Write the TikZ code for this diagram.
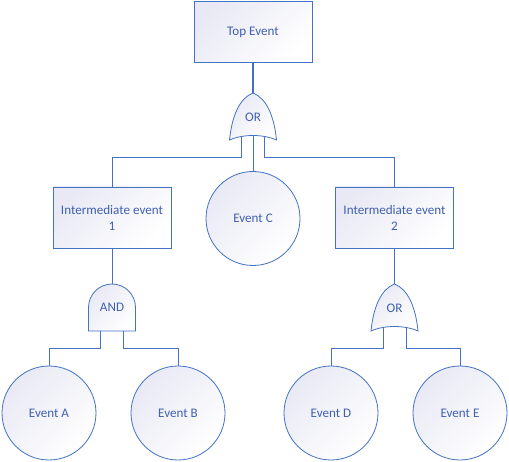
\documentclass[tikz,border=0pt]{standalone}
\usepackage{fontspec}
\setmainfont{Carlito}
\definecolor{ftline}{RGB}{68,114,196}
\definecolor{fttext}{RGB}{64,96,176}
\definecolor{ftfill}{RGB}{232,233,244}
\tikzset{
  shapefill/.style={draw=ftline, line width=0.8pt, top color=ftfill, bottom color=white, shading angle=45},
  box/.style={shapefill, minimum width=118pt, minimum height=61pt, align=center, inner sep=0pt},
  basic/.style={shapefill, circle, minimum size=94pt, inner sep=0pt},
  wire/.style={draw=ftline, line width=0.8pt}
}
\begin{document}
\begin{tikzpicture}
  [x=1pt, y=-1pt, every node/.style={text=fttext, font=\fontsize{13.1}{16}\selectfont}]
  \useasboundingbox (0,0) rectangle (509,462);

  % events
  \node[box] (top) at (253,32) {Top Event};
  \node[box] (int1) at (112,217.5) {Intermediate event\\1};
  \node[box] (int2) at (394.5,217.5) {Intermediate event\\2};
  \node[basic] (evC) at (253,218.5) {Event C};
  \node[basic] (evA) at (49,413) {Event A};
  \node[basic] (evB) at (178,413) {Event B};
  \node[basic] (evD) at (331,413) {Event D};
  \node[basic] (evE) at (460,413) {Event E};

  % OR gates
  \foreach \g/\x/\y in {or1/253/93, or2/394.5/284}{
    \begin{scope}[shift={(\x,\y)}]
      \path[shapefill] (-23.5,47) .. controls (-21,22) and (-13,5) .. (0,0)
        .. controls (13,5) and (21,22) .. (23.5,47)
        .. controls (10,41) and (-10,41) .. cycle;
      \node (\g) at (0,24) {OR};
      \coordinate (\g tip) at (0,0);
      \coordinate (\g l) at (-11.5,43.5);
      \coordinate (\g m) at (0,42.5);
      \coordinate (\g r) at (11.5,43.5);
    \end{scope}
  }

  % AND gate
  \path[shapefill] (88.5,331) -- (88.5,307.5) arc[start angle=180, end angle=0, radius=23.5pt] -- (135.5,331) -- cycle;
  \node (and1) at (112,307.5) {AND};
  \coordinate (and1tip) at (112,284);
  \coordinate (and1l) at (100.5,331);
  \coordinate (and1r) at (123.5,331);

  % connectors
  \draw[wire, line width=1.5pt] (top.south) -- (or1tip);
  \draw[wire] (or1l) -- ++(0,20.5) -| (int1.north);
  \draw[wire] (or1m) -- (evC.north);
  \draw[wire] (or1r) -- ++(0,20.5) -| (int2.north);
  \draw[wire] (int1.south) -- (and1tip);
  \draw[wire] (and1l) -- ++(0,17) -| (evA.north);
  \draw[wire] (and1r) -- ++(0,17) -| (evB.north);
  \draw[wire] (int2.south) -- (or2tip);
  \draw[wire] (or2l) -- ++(0,20.5) -| (evD.north);
  \draw[wire] (or2r) -- ++(0,20.5) -| (evE.north);
\end{tikzpicture}
\end{document}
